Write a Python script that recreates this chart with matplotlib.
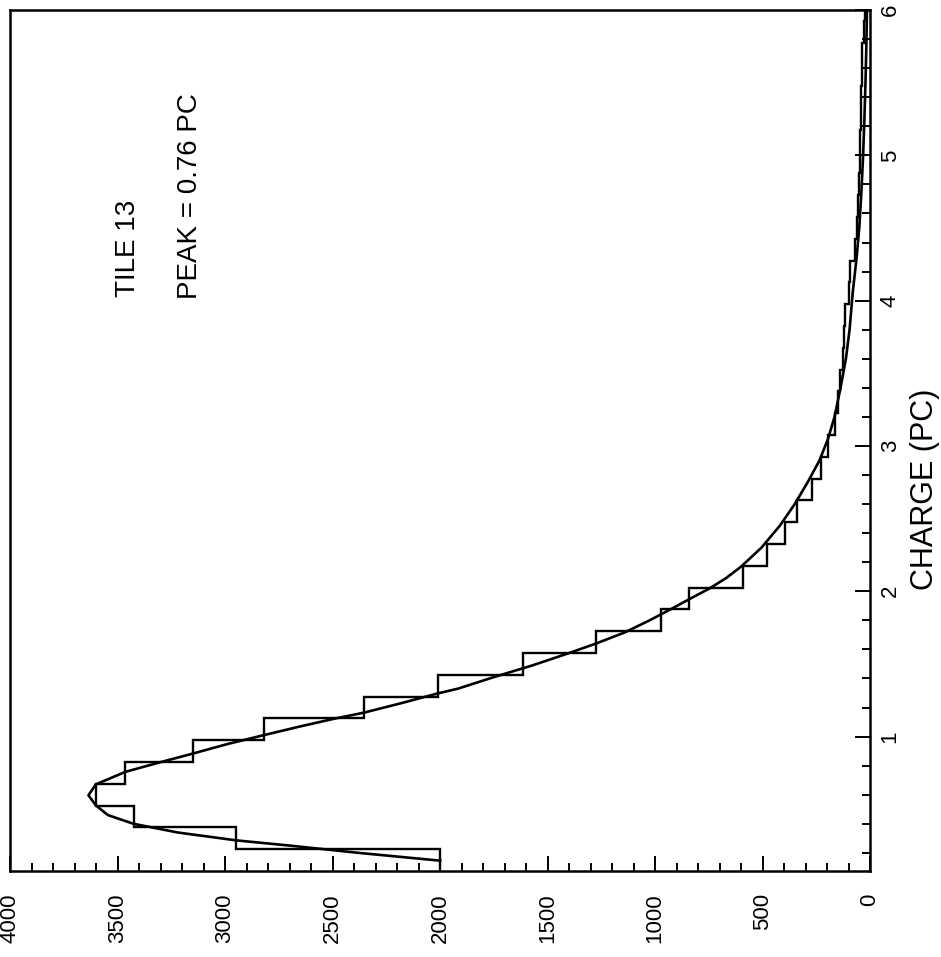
import matplotlib
matplotlib.use("Agg")
import matplotlib.pyplot as plt
from matplotlib.ticker import MultipleLocator, FixedLocator

plt.rcParams['font.family'] = ['Liberation Sans', 'DejaVu Sans']

# Histogram: bin edges (charge, pC) and counts per bin
bin_edges = [0.075, 0.225, 0.375, 0.525, 0.675, 0.825, 0.975, 1.125, 1.275, 1.425,
             1.575, 1.725, 1.875, 2.025, 2.175, 2.325, 2.475, 2.625, 2.775, 2.925,
             3.075, 3.225, 3.375, 3.525, 3.675, 3.825, 3.975, 4.125, 4.275, 4.425,
             4.575, 4.725, 4.875, 5.025, 5.175, 5.325, 5.475, 5.625, 5.775, 5.925,
             6.075]
bin_counts = [2000, 2950, 3425, 3600, 3465, 3150, 2820, 2355, 2010, 1615,
              1275, 970, 840, 593, 480, 395, 340, 270, 230, 195,
              165, 150, 140, 125, 120, 115, 100, 95, 70, 60,
              55, 50, 45, 45, 40, 40, 35, 35, 30, 25]

# Fitted curve
fit_charge = [0.146, 0.20, 0.25, 0.286, 0.34, 0.40, 0.46, 0.527, 0.596, 0.671,
              0.757, 0.82, 0.883, 0.95, 1.009, 1.07, 1.124, 1.165, 1.23, 1.296,
              1.33, 1.411, 1.49, 1.572, 1.64, 1.716, 1.80, 1.877, 1.95, 2.019,
              2.09, 2.169, 2.30, 2.45, 2.60, 2.75, 2.90, 3.05, 3.20, 3.40,
              3.60, 3.80, 4.06, 4.30, 4.50, 4.75, 5.00, 5.25, 5.50, 5.75, 6.00]
fit_counts = [1999, 2380, 2700, 2949, 3220, 3426, 3545, 3601, 3635, 3601,
              3464, 3310, 3150, 2985, 2822, 2650, 2489, 2353, 2180, 2013,
              1916, 1746, 1570, 1405, 1275, 1142, 1025, 926, 835, 747,
              670, 600, 505, 420, 350, 290, 235, 195, 165, 137,
              112, 95, 80, 62, 50, 40, 32, 26, 21, 17, 14]

count_ticks = [0, 500, 1000, 1500, 2000, 2500, 3000, 3500, 4000]
charge_ticks = [1, 2, 3, 4, 5, 6]

W, H = 941, 957
fig = plt.figure(figsize=(W / 100, H / 100), dpi=100)
ax = fig.add_axes([10 / W, 1 - 871 / H, 860 / W, 861 / H])

ax.stairs(bin_counts, bin_edges, orientation='horizontal', baseline=None,
          color='black', lw=1.7)
ax.plot(fit_counts, fit_charge, color='black', lw=1.9)

ax.set_xlim(4000, 0)
ax.set_ylim(0.075, 6.0)

ax.yaxis.tick_right()
ax.xaxis.set_major_locator(FixedLocator(count_ticks))
ax.xaxis.set_minor_locator(MultipleLocator(100))
ax.yaxis.set_major_locator(FixedLocator(charge_ticks))
ax.yaxis.set_minor_locator(MultipleLocator(0.2))
ax.set_xticklabels([str(t) for t in count_ticks])
ax.set_yticklabels([str(t) for t in charge_ticks])

ax.tick_params(which='both', direction='in', width=1.4, color='black',
               top=False, left=False, right=True, bottom=True)
ax.tick_params(which='major', length=11)
ax.tick_params(which='minor', length=6)
ax.tick_params(axis='x', which='major', labelrotation=90, pad=16, labelsize=16)
ax.tick_params(axis='y', which='major', labelrotation=90, pad=7, labelsize=16)
for lab in ax.get_yticklabels():
    lab.set_verticalalignment('center')

for sp in ax.spines.values():
    sp.set_linewidth(1.8)
    sp.set_color('black')

fig.text(128 / W, 1 - 297 / H, 'TILE 13', rotation=90, ha='center', va='bottom',
         fontsize=20)
fig.text(190 / W, 1 - 299 / H, 'PEAK = 0.76 PC', rotation=90, ha='center',
         va='bottom', fontsize=20)
fig.text(925 / W, 1 - 590 / H, 'CHARGE (PC)', rotation=90, ha='center',
         va='bottom', fontsize=22)

fig.savefig('out.png', dpi=100, facecolor='white')
